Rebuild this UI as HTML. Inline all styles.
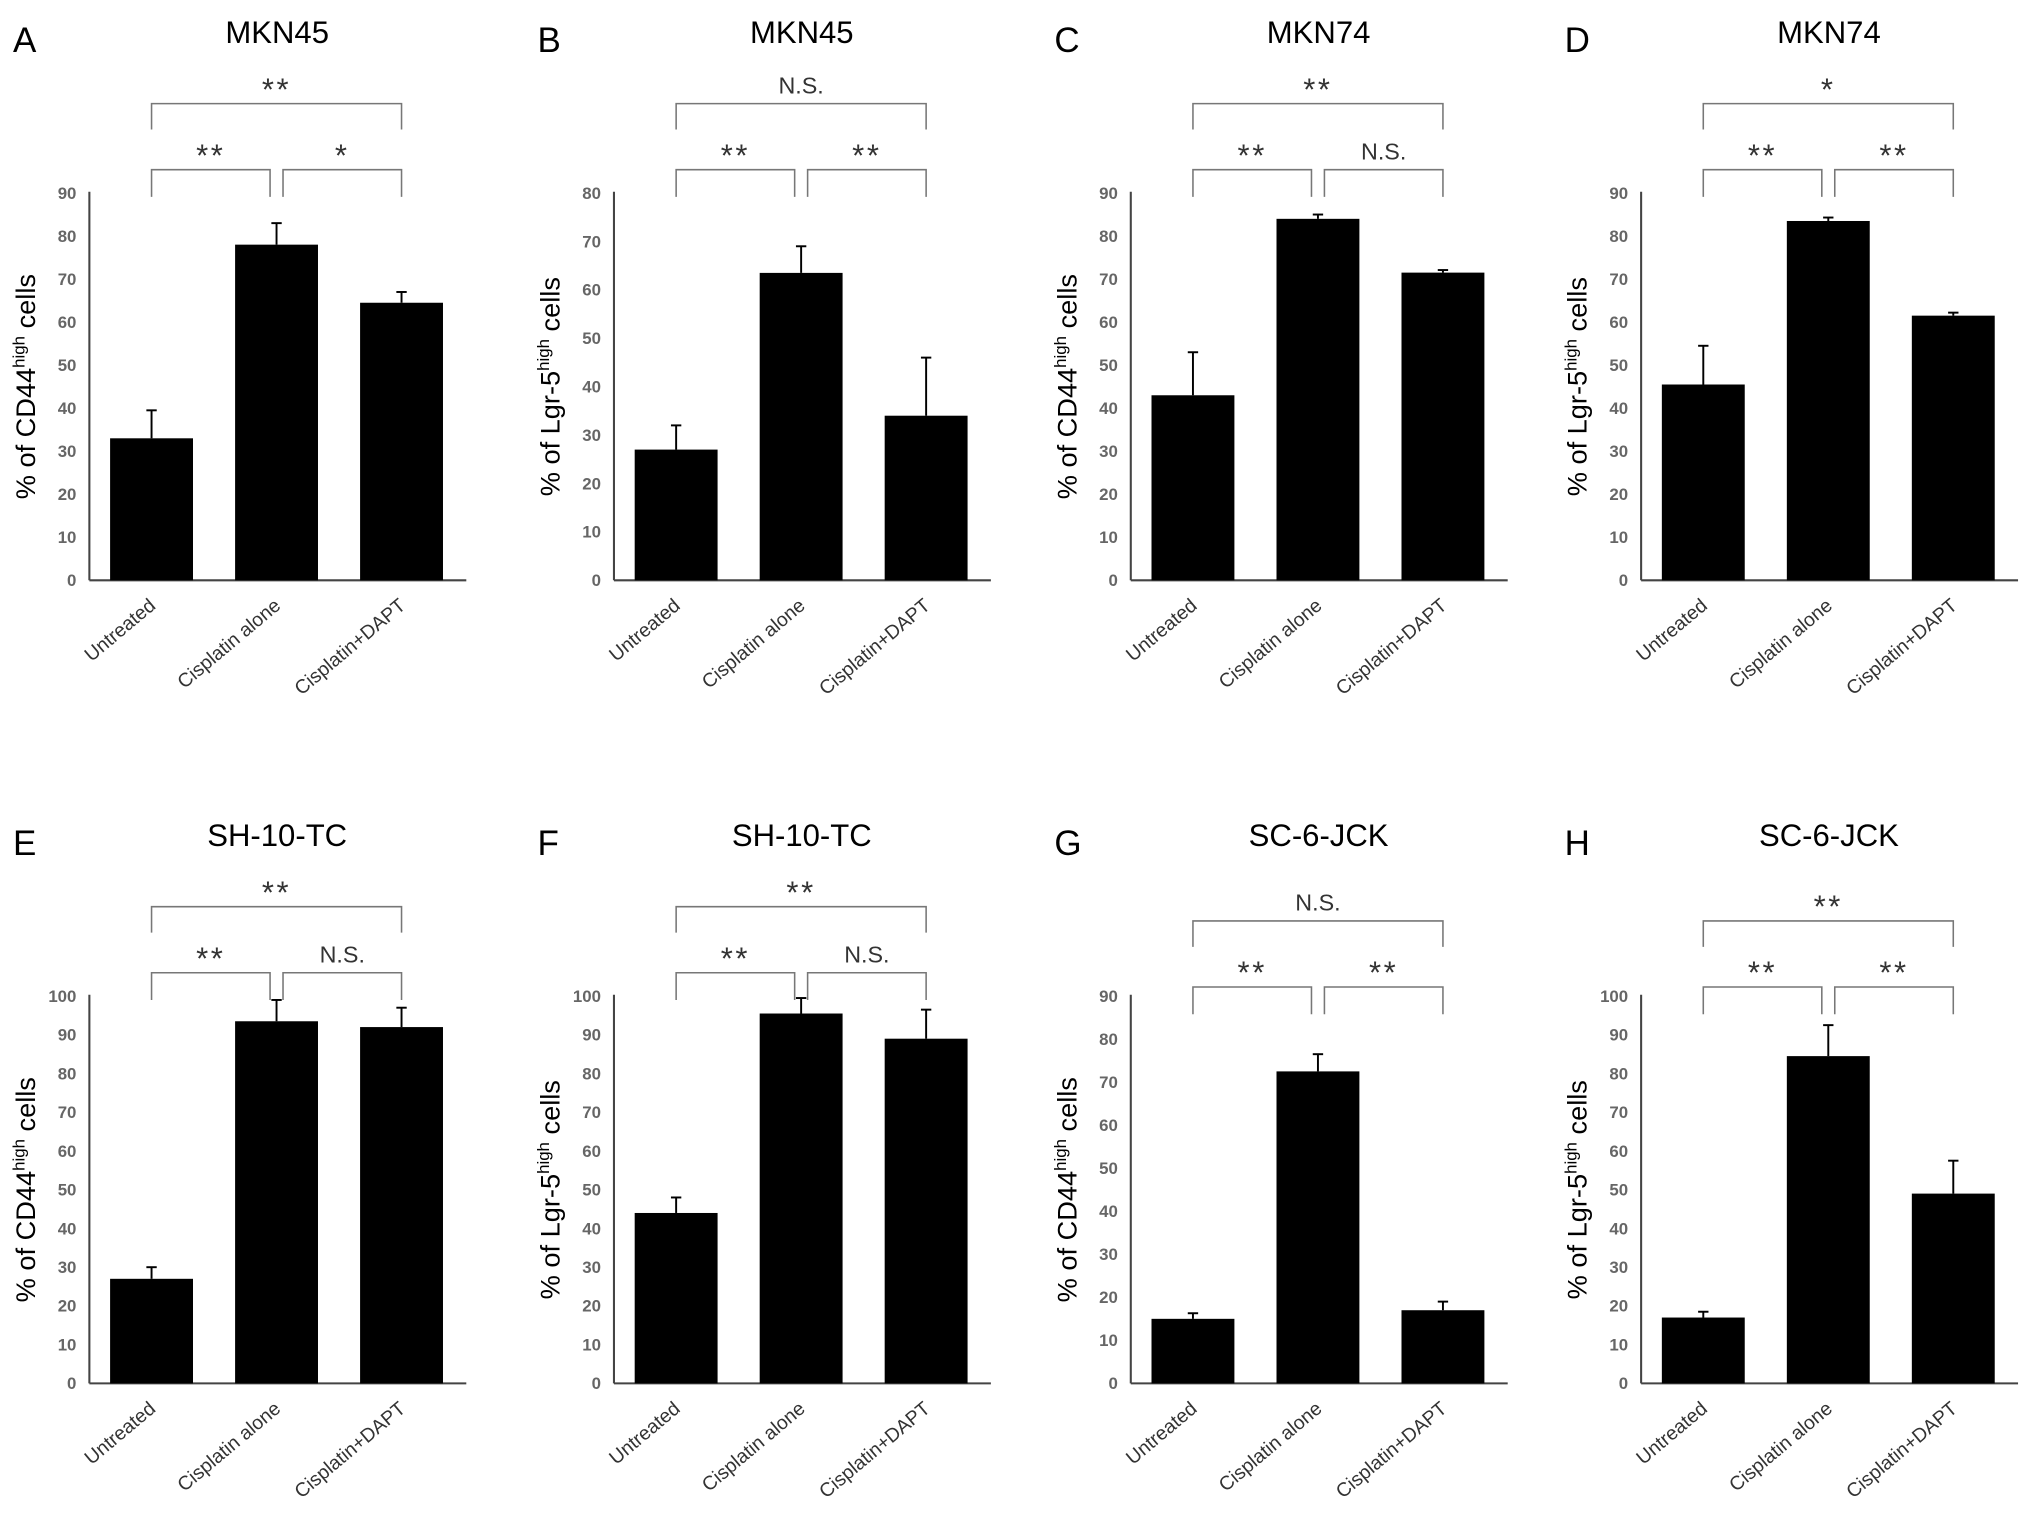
<!DOCTYPE html>
<html><head><meta charset="utf-8"><style>
html,body{margin:0;padding:0;background:#fff;}
svg{display:block;font-family:"Liberation Sans",Arial,sans-serif;}
</style></head><body>
<svg id="fig" width="2031" height="1533" viewBox="0 0 1568 1183.5" xmlns="http://www.w3.org/2000/svg"></svg>
<script>
const categories = ["Untreated","Cisplatin alone","Cisplatin+DAPT"];
const panelLetters = ["A","B","C","D","E","F","G","H"];
const panelTitles = ["MKN45","MKN45","MKN74","MKN74","SH-10-TC","SH-10-TC","SC-6-JCK","SC-6-JCK"];
const markers = ["CD44","Lgr-5","CD44","Lgr-5","CD44","Lgr-5","CD44","Lgr-5"];
const yMaxes = [90,80,90,90,100,100,90,100];
const meansA=[33,78,64.5], errA=[6.5,5,2.5];
const meansB=[27,63.5,34], errB=[5,5.5,12];
const meansC=[43,84,71.5], errC=[10,1,0.6];
const meansD=[45.5,83.5,61.5], errD=[9,0.8,0.7];
const meansE=[27,93.5,92], errE=[3,5.5,5];
const meansF=[44,95.5,89], errF=[4,4,7.5];
const meansG=[15,72.5,17], errG=[1.3,4,2];
const meansH=[17,84.5,49], errH=[1.5,8,8.5];
const allMeans=[meansA,meansB,meansC,meansD,meansE,meansF,meansG,meansH];
const allErrs=[errA,errB,errC,errD,errE,errF,errG,errH];
const sigTop=["**","N.S.","**","*","**","**","N.S.","**"];
const sigLeft=["**","**","**","**","**","**","**","**"];
const sigRight=["*","**","N.S.","**","N.S.","N.S.","**","**"];

const NS="http://www.w3.org/2000/svg";
const svg=document.getElementById('fig');
function mk(tag,attrs,parent,text){const e=document.createElementNS(NS,tag);for(const k in attrs)e.setAttribute(k,attrs[k]);if(text!==undefined)e.textContent=text;(parent||svg).appendChild(e);return e;}
const colX=[0,405,804,1198];
for(let p=0;p<8;p++){
  const ox=colX[p%4], oy=p<4?0:620;
  const g=mk('g',{transform:`translate(${ox},${oy})`});
  
  
  const axX=69, y0=448, yTop=149, ymax=yMaxes[p];
  const ys=v=>y0-(v/ymax)*(y0-yTop);
  const xc=i=>117+i*96.5;
  const bw=64;
  let t=mk('text',{x:10,y:40,'font-size':27},g,panelLetters[p]);
  
  t=mk('text',{x:214,y:33,'font-size':24,'text-anchor':'middle'},g,panelTitles[p]);
  
  let l=mk('line',{x1:axX,y1:yTop-1,x2:axX,y2:y0,stroke:'#444','stroke-width':1.6},g);
  
  l=mk('line',{x1:axX,y1:y0,x2:360,y2:y0,stroke:'#444','stroke-width':1.6},g);
  
  for(let v=0;v<=ymax;v+=10){
    t=mk('text',{x:59,y:ys(v)+4.5,'font-size':13,'font-weight':'bold','text-anchor':'end',fill:'#666'},g,String(v));
    
  }
  t=mk('text',{transform:`translate(27,${(y0+yTop)/2}) rotate(-90)`,'font-size':21,'text-anchor':'middle'},g);
  
  mk('tspan',{},t,'% of '+markers[p]);
  mk('tspan',{dy:-8,'font-size':13},t,'high');
  mk('tspan',{dy:8},t,' cells');
  for(let i=0;i<3;i++){
    const m=allMeans[p][i], e=allErrs[p][i];
    const r=mk('rect',{x:xc(i)-bw/2,y:ys(m),width:bw,height:y0-ys(m),fill:'#000'},g);
    
    
    const eg=mk('g',{stroke:'#000','stroke-width':1.5},g);
    
    mk('line',{x1:xc(i),y1:ys(m),x2:xc(i),y2:ys(m+e)},eg);
    mk('line',{x1:xc(i)-4,y1:ys(m+e),x2:xc(i)+4,y2:ys(m+e)},eg);
    t=mk('text',{transform:`translate(${xc(i)+4},${y0+21}) rotate(-40)`,'font-size':15,'text-anchor':'end',fill:'#333'},g,categories[i]);
    
  }
  const shift=(p>=6)?11:0;
  const bt=80+shift, bl=131+shift;
  function bracket(x1,x2,y,h,label,name){
    const bg=mk('g',{},g);
    mk('path',{d:`M${x1},${y+h} V${y} H${x2} V${y+h}`,fill:'none',stroke:'#777','stroke-width':1.2},bg);
    const star=label.indexOf('*')>=0;
    mk('text',{x:(x1+x2)/2,y:star?y-3:y-8,'font-size':star?24:18,'text-anchor':'middle',fill:'#333','letter-spacing':star?2:0},bg,label);
  }
  bracket(xc(0),xc(2),bt,20,sigTop[p],'significance-bracket-top');
  bracket(xc(0),xc(1)-5,bl,21,sigLeft[p],'significance-bracket-left');
  bracket(xc(1)+5,xc(2),bl,21,sigRight[p],'significance-bracket-right');
}
</script>
</body></html>
